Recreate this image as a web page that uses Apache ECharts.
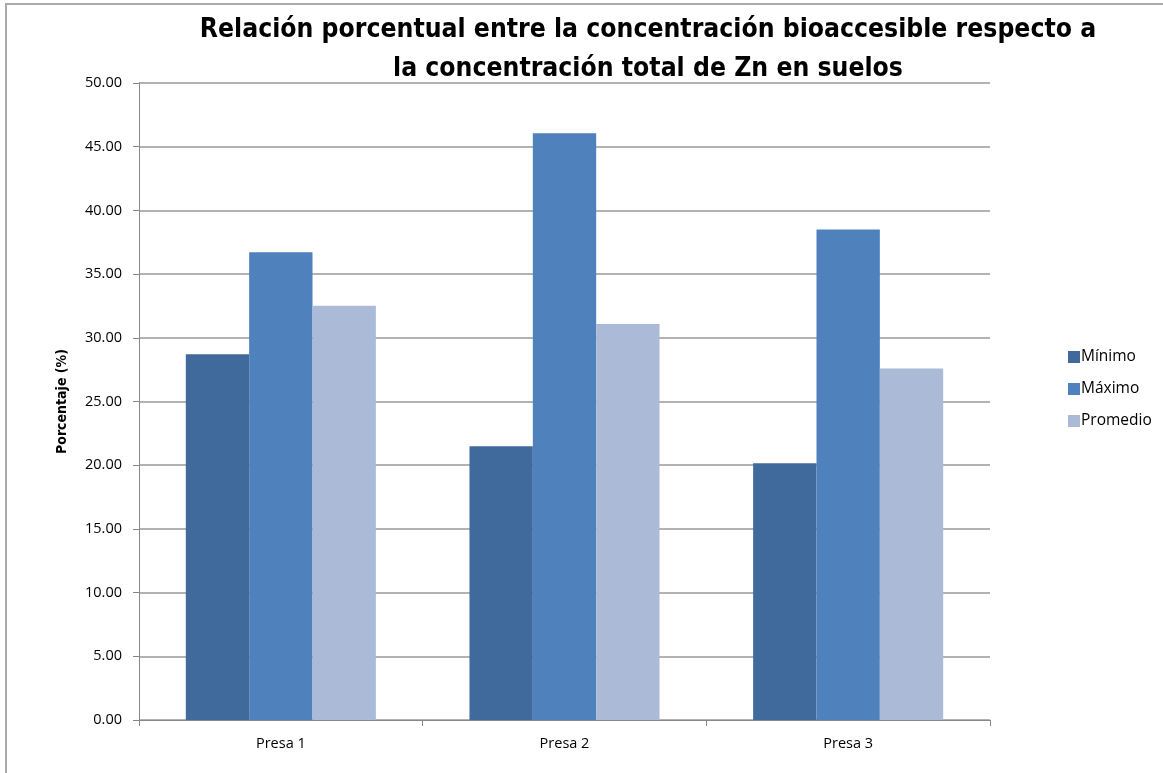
<!DOCTYPE html>
<html>
<head>
<meta charset="utf-8">
<script src="https://cdn.jsdelivr.net/npm/echarts@6/dist/echarts.min.js"></script>
<style>
html,body{margin:0;padding:0;background:#fff;}
#c{width:1163px;height:773px;}
</style>
</head>
<body>
<div id="c"></div>
<script>
const categories = ['Presa 1', 'Presa 2', 'Presa 3'];
const minimo = [28.70, 21.48, 20.15];
const maximo = [36.71, 46.05, 38.51];
const promedio = [32.52, 31.08, 27.60];
const seriesNames = ['Mínimo', 'Máximo', 'Promedio'];
const titleText = 'Relación porcentual entre la concentración bioaccesible respecto a\nla concentración total de Zn en suelos';
const yAxisName = 'Porcentaje (%)';

const colors = ['#3F6A9B', '#4F81BD', '#AABAD7'];
const narrow = '"Liberation Sans Narrow", "DejaVu Sans Condensed", "Liberation Sans", sans-serif';
const sans = '"Open Sans", "Liberation Sans", sans-serif';
const chart = echarts.init(document.getElementById('c'), null, {renderer: 'canvas'});
const data = [minimo, maximo, promedio];
chart.setOption({
  animation: false,
  backgroundColor: '#fff',
  title: {
    text: titleText,
    left: 643, top: 6, textAlign: 'center',
    textStyle: {fontFamily: narrow, fontSize: 26.3, fontWeight: 'bold', color: '#000', lineHeight: 39}
  },
  legend: {
    orient: 'vertical', left: 1063, top: 343,
    itemWidth: 12, itemHeight: 12, itemGap: 14,
    icon: 'rect',
    textStyle: {fontFamily: sans, fontSize: 15.5, lineHeight: 18, color: '#000', padding: [0,0,0,-4]},
    data: seriesNames
  },
  grid: {left: 139, right: 173, top: 83, bottom: 53, containLabel: false},
  xAxis: {
    type: 'category', data: categories,
    axisLine: {lineStyle: {color: '#888', width: 1}},
    axisTick: {show: true, alignWithLabel: false, length: 6, lineStyle: {color: '#888'}},
    axisLabel: {fontFamily: sans, fontSize: 14.5, color: '#000', margin: 16}
  },
  yAxis: {
    type: 'value', min: 0, max: 50, interval: 5,
    name: yAxisName, nameLocation: 'middle', nameGap: 70,
    nameTextStyle: {fontFamily: narrow, fontSize: 14, fontWeight: 'bold', color: '#000'},
    axisLine: {show: true, lineStyle: {color: '#888', width: 1}},
    axisTick: {show: true, length: 6, inside: false, lineStyle: {color: '#888'}},
    splitLine: {lineStyle: {color: '#999', width: 1.5}},
    axisLabel: {fontFamily: sans, fontSize: 14.5, color: '#000', margin: 17,
      formatter: v => v.toFixed(2)}
  },
  series: data.map((d, i) => ({
    name: seriesNames[i], type: 'bar', data: d,
    barGap: '0%', barCategoryGap: '33%',
    itemStyle: {color: colors[i]}
  })),
  graphic: [
    {type: 'line', shape: {x1: 5, y1: 4, x2: 1163, y2: 4}, style: {stroke: '#aaa', lineWidth: 2}},
    {type: 'line', shape: {x1: 6, y1: 3, x2: 6, y2: 773}, style: {stroke: '#aaa', lineWidth: 2}}
  ]
});
</script>
</body>
</html>
